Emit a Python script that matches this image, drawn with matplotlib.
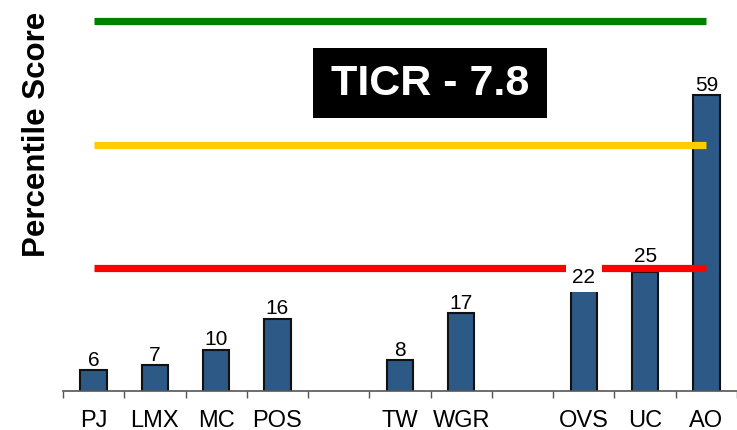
import matplotlib
matplotlib.use("Agg")
import matplotlib.pyplot as plt
from matplotlib.patches import Rectangle

categories = ["PJ", "LMX", "MC", "POS", "", "TW", "WGR", "", "OVS", "UC", "AO"]
values = [6, 7, 10, 16, None, 8, 17, None, 22, 25, 59]
threshold_values = [25.8, 49.5, 73.3]
threshold_colors = ["#FF0000", "#FFCC00", "#008000"]
title_text = "TICR - 7.8"
y_label = "Percentile Score"

plt.rcParams['font.family'] = ['Liberation Sans', 'DejaVu Sans']

W, H = 737, 431
fig = plt.figure(figsize=(W / 100, H / 100), dpi=100)
ax = fig.add_axes([63 / W, (H - 392) / H, (737 - 63) / W, 392 / H])

n = len(categories)
xs = list(range(n))
bar_x = [x for x, v in zip(xs, values) if v is not None]
bar_v = [v for v in values if v is not None]

ax.bar(bar_x, bar_v, width=0.43, color="#2D5986", edgecolor="#111111",
       linewidth=1.5, zorder=2)

for yv, c in zip(threshold_values, threshold_colors):
    ax.plot([0, n - 1], [yv, yv], color=c, linewidth=5.2, solid_capstyle="butt", zorder=3)

for x, v in zip(bar_x, bar_v):
    kw = dict(xytext=(0, 1), textcoords="offset points", ha="center", va="bottom",
              fontsize=15, zorder=5)
    if v == 22:
        kw["bbox"] = dict(boxstyle="square,pad=0.3", fc="white", ec="none")
    if v == 25:
        kw["xytext"] = (0, 5)
    ax.annotate(str(v), (x, v), **kw)

ax.set_xlim(-0.5, n - 0.5)
ax.set_ylim(2.03, 77.6)

for s in ["top", "right", "left"]:
    ax.spines[s].set_visible(False)
ax.spines["bottom"].set_color("#555555")
ax.spines["bottom"].set_linewidth(1.2)

ax.set_yticks([])
ax.set_xticks([i - 0.5 for i in range(n + 1)])
ax.set_xticklabels([])
ax.tick_params(axis="x", which="major", length=5, width=1, color="#555555", direction="out")
ax.set_xticks(xs, minor=True)
ax.set_xticklabels(categories, minor=True, fontsize=17)
ax.tick_params(axis="x", which="minor", length=0, pad=13)

fig.text(37 / W, 1 - 134 / H, y_label, rotation=90, ha="center", va="center",
         fontsize=22.5, fontweight="bold")

fig.text(430 / W, 1 - 84 / H, title_text, ha="center", va="center", color="white",
         fontsize=31, fontweight="bold", zorder=10)
fig.patches.append(Rectangle((313 / W, 1 - 119 / H), (547 - 313) / W, 70 / H,
                             transform=fig.transFigure, facecolor="black",
                             edgecolor="none", zorder=9))

fig.savefig("out.png", dpi=100)
